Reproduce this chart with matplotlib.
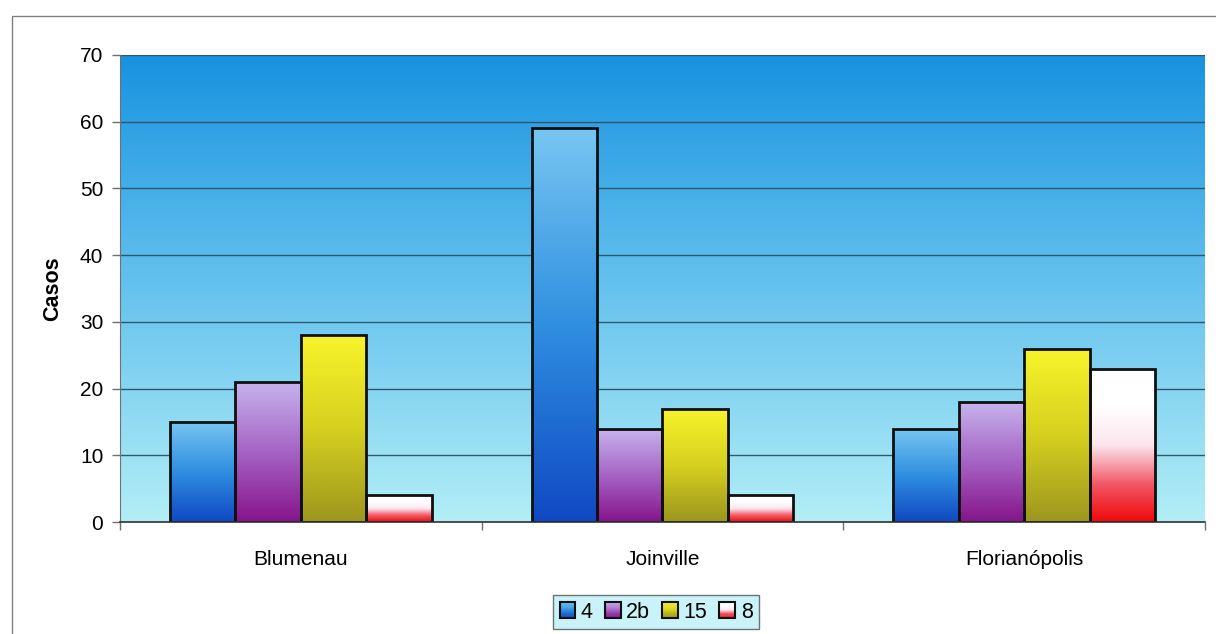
import numpy as np
import matplotlib
matplotlib.use("Agg")
import matplotlib.pyplot as plt
from matplotlib.colors import LinearSegmentedColormap
from matplotlib.patches import Rectangle
from matplotlib.legend_handler import HandlerBase

plt.rcParams['font.family'] = ['Liberation Sans', 'DejaVu Sans']

# Data
cities = ["Blumenau", "Joinville", "Florianópolis"]
series_names = ["4", "2b", "15", "8"]
values_4 = [15, 59, 14]
values_2b = [21, 14, 18]
values_15 = [28, 17, 26]
values_8 = [4, 4, 23]
y_ticks = [0, 10, 20, 30, 40, 50, 60, 70]
y_label = "Casos"

series_values = [values_4, values_2b, values_15, values_8]

# Vertical gradients for each series, listed bottom -> top
series_gradients = [
    ["#1048c4", "#2f8fe0", "#78c6f2"],
    ["#86148c", "#a564c4", "#c8b4ee"],
    ["#9c961e", "#d6d020", "#f8f42a"],
    ["#f00808", "#f25a68", "#fce6ee", "#ffffff", "#ffffff"],
]
series_cmaps = [LinearSegmentedColormap.from_list(f"g{i}", c)
                for i, c in enumerate(series_gradients)]

W, H = 1216, 634
fig = plt.figure(figsize=(W / 100, H / 100), dpi=100)
fig.patch.set_facecolor("white")

ax = fig.add_axes([120 / W, 1 - 522 / H, (1205 - 120) / W, (522 - 55) / H])

# Plot-area background: deep blue at top fading to pale cyan
bg_cmap = LinearSegmentedColormap.from_list(
    "bg", ["#b2eef6", "#66c2ee", "#1893e0"])
ax.imshow(np.linspace(0, 1, 256).reshape(-1, 1), cmap=bg_cmap,
          origin="lower", extent=[0, 1, 0, 1], transform=ax.transAxes,
          aspect="auto", zorder=0, interpolation="bicubic")

n_series = len(series_values)
group_width = 0.7244
bar_w = group_width / n_series
x = np.arange(len(cities))

gradient = np.linspace(0, 1, 256).reshape(-1, 1)
for i, vals in enumerate(series_values):
    offs = x - group_width / 2 + bar_w * (i + 0.5)
    bars = ax.bar(offs, vals, width=bar_w, facecolor="none",
                  edgecolor="#101010", linewidth=2.0, zorder=3)
    for b in bars:
        x0, y0 = b.get_x(), b.get_y()
        im = ax.imshow(gradient, cmap=series_cmaps[i], origin="lower",
                       extent=[x0, x0 + b.get_width(), y0, y0 + b.get_height()],
                       aspect="auto", zorder=2, interpolation="bicubic")
        im.set_clip_path(b)

ax.set_xlim(-0.5, len(cities) - 0.5)
ax.set_ylim(0, 70)
ax.set_aspect("auto")

# Gridlines
for yv in y_ticks[1:]:
    ax.axhline(yv, color="#2c5870", linewidth=1.0, zorder=1)

ax.set_yticks(y_ticks)
ax.set_yticklabels([str(v) for v in y_ticks], fontsize=15)
ax.set_xticks(x)
ax.set_xticklabels(cities, fontsize=15)
ax.set_xticks(np.arange(len(cities) + 1) - 0.5, minor=True)
ax.tick_params(axis="x", which="major", length=0, pad=20)
ax.tick_params(axis="x", which="minor", length=6, color="#707070", width=1)
ax.tick_params(axis="y", length=6, color="#707070", width=1, pad=6)
ax.set_ylabel(y_label, fontsize=15.5, fontweight="bold", labelpad=12)

for s in ["top", "right"]:
    ax.spines[s].set_visible(False)
ax.spines["left"].set_color("#707070")
ax.spines["bottom"].set_color("#303030")
ax.spines["bottom"].set_linewidth(1.2)
ax.spines["bottom"].set_zorder(4)


class GradientSquare(HandlerBase):
    def __init__(self, cmap, n=14):
        super().__init__()
        self.cmap = cmap
        self.n = n

    def create_artists(self, legend, orig_handle, xdescent, ydescent,
                       width, height, fontsize, trans):
        side = min(width, height)
        x0 = -xdescent + (width - side) / 2
        y0 = -ydescent + (height - side) / 2
        arts = []
        step = side / self.n
        for k in range(self.n):
            c = self.cmap((k + 0.5) / self.n)
            arts.append(Rectangle((x0, y0 + k * step), side, step * 1.05,
                                  facecolor=c, edgecolor="none",
                                  transform=trans))
        arts.append(Rectangle((x0, y0), side, side, facecolor="none",
                              edgecolor="#101010", linewidth=1.5,
                              transform=trans))
        return arts


proxies = [Rectangle((0, 0), 1, 1) for _ in series_names]
handler_map = {p: GradientSquare(series_cmaps[i]) for i, p in enumerate(proxies)}
leg = fig.legend(proxies, series_names, handler_map=handler_map,
                 loc="center", bbox_to_anchor=(656 / W, 1 - 612 / H),
                 ncol=4, fontsize=15.5, frameon=True, fancybox=False,
                 handlelength=0.75, handleheight=0.75, handletextpad=0.25,
                 columnspacing=0.55, borderpad=0.3, borderaxespad=0)
leg.get_frame().set_facecolor("#bcf0f8")
leg.get_frame().set_edgecolor("#505050")
leg.get_frame().set_linewidth(1.0)

# Outer chart frame
frame = Rectangle((12 / W, -0.1), 2, 1 - 16 / H + 0.1, transform=fig.transFigure,
                  fill=False, edgecolor="#808080", linewidth=1.0, clip_on=False)
fig.add_artist(frame)

fig.savefig("out.png", dpi=100)
